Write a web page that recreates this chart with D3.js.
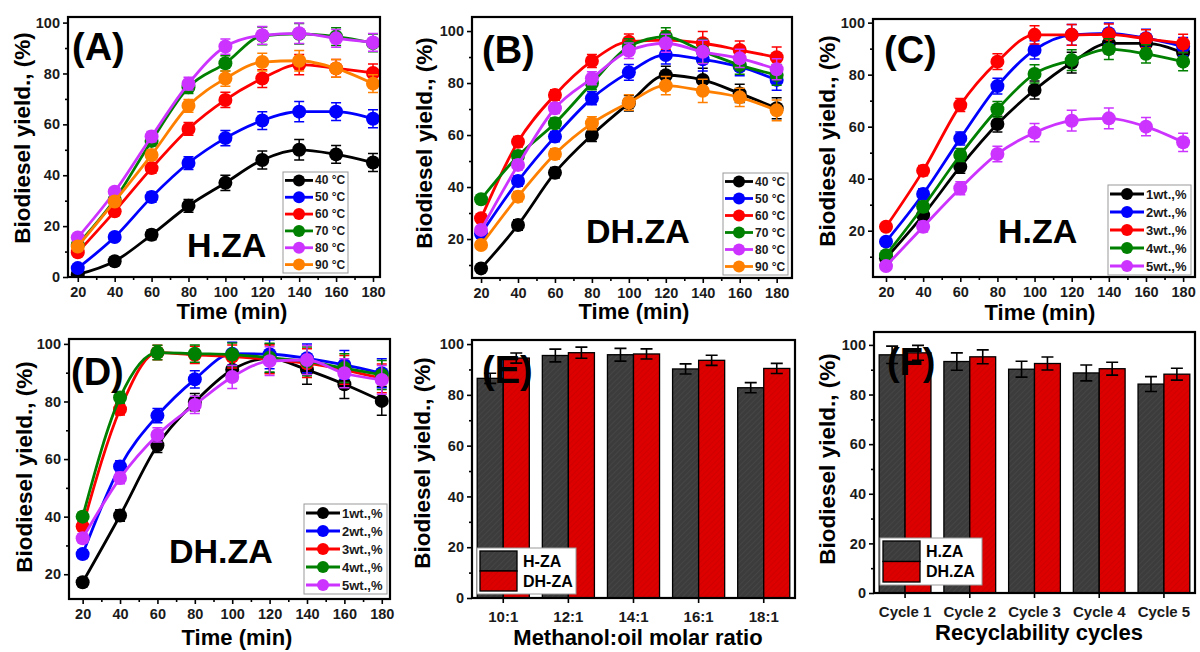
<!DOCTYPE html>
<html>
<head>
<meta charset="utf-8">
<script src="https://cdn.jsdelivr.net/npm/d3@7"></script>
<style>
  body { margin: 0; background: #fff; }
  svg text { font-family: "Liberation Sans", Arial, sans-serif; font-weight: bold; }
</style>
</head>
<body>
<div id="chart"></div>
<script>
// ---- data ----
const timeMin = [20, 40, 60, 80, 100, 120, 140, 160, 180];
const tempLabels = ["40 °C", "50 °C", "60 °C", "70 °C", "80 °C", "90 °C"];
const loadLabels = ["1wt.,%", "2wt.,%", "3wt.,%", "4wt.,%", "5wt.,%"];

// (A) H.ZA, temperature
const yieldA = [
  [1, 6.2, 16.6, 28, 37, 46, 50, 48.2, 45],
  [3.5, 15.7, 31.4, 44.8, 54.6, 61.5, 65, 65, 62.2],
  [9.7, 25.8, 42.8, 58.2, 69.6, 78, 83.5, 82, 80.2],
  [12.7, 30.4, 53.5, 74.6, 84, 94.8, 95.6, 94.5, 92],
  [15.5, 33.5, 55.2, 76, 90.6, 95, 95.8, 93.8, 92.2],
  [12, 29.7, 48, 67.3, 78, 84.5, 85, 82, 76]
];
const errA = [1, 1.5, 2, 2.5, 3, 3.5, 4, 3.5, 3.5];

// (B) DH.ZA, temperature
const yieldB = [
  [8.7, 25.4, 45.5, 60, 72.2, 83, 81.2, 76, 70.3],
  [22, 42.3, 59.4, 74.1, 84.1, 90.8, 89.1, 86.3, 81.2],
  [28, 57.4, 75.4, 88.5, 95.9, 96.5, 95.3, 92.7, 89.9],
  [35.3, 51.9, 64.5, 79.9, 94, 97.8, 92.2, 86.9, 83.1],
  [23.5, 48.5, 70.3, 81.8, 92.4, 95.3, 92, 89.5, 85.3],
  [17.7, 36.3, 52.7, 64.5, 72.5, 79, 77, 74.5, 69.5]
];
const errB = [1.5, 2, 2, 2.5, 3, 3.5, 4.5, 3.5, 4];

// (C) H.ZA, catalyst loading
const yieldC = [
  [9.4, 26, 44.6, 61, 74.1, 84.6, 92, 92, 88.5],
  [15.8, 34.1, 55.5, 75.6, 89.5, 95.3, 95.9, 94, 90.8],
  [21.5, 43.1, 68.3, 85, 95.3, 95.3, 95.5, 93.8, 92],
  [10.6, 29.2, 49.1, 66.7, 80.3, 85.6, 89.8, 88, 85],
  [6.4, 21.5, 36.3, 49.5, 57.7, 62.3, 63.2, 60, 54]
];
const errC = [1.5, 2, 2.5, 3, 3.5, 4, 4, 3.5, 3.5];

// (D) DH.ZA, catalyst loading
const yieldD = [
  [17.2, 40.4, 64.8, 79.8, 91, 95, 91, 86, 80.2],
  [27, 57.4, 75.1, 87.7, 96.6, 96.4, 95, 92.7, 89.8],
  [36.6, 77.3, 97, 96.2, 95.6, 94.6, 93.3, 91, 88],
  [40, 81.4, 97, 96.6, 96.3, 95.2, 93.9, 91.6, 89.2],
  [32.5, 53.4, 68.4, 78.8, 88.5, 94, 94.4, 89.8, 87.5]
];
const errD = [1.5, 2, 2.5, 3, 4, 5, 5, 5, 5];

// (E) methanol:oil molar ratio
const ratioCats = ["10:1", "12:1", "14:1", "16:1", "18:1"];
const ratioH = [86.5, 95.5, 95.8, 90.2, 82.8];
const ratioHErr = [2, 2.5, 2.5, 2, 2];
const ratioDH = [94.5, 96.6, 96.1, 93.6, 90.4];
const ratioDHErr = [2, 2.2, 2, 2, 2];

// (F) recyclability
const cycleCats = ["Cycle 1", "Cycle 2", "Cycle 3", "Cycle 4", "Cycle 5"];
const cycleH = [96, 93.3, 90.2, 88.7, 84.2];
const cycleHErr = [3.5, 3.5, 3.2, 3.2, 3];
const cycleDH = [96.8, 95.2, 92.5, 90.4, 88.2];
const cycleDHErr = [3, 2.8, 2.6, 2.6, 2.4];

const tempColors = ["#000000", "#0000ff", "#ff0000", "#008000", "#cc33ff", "#ff8000"];
const loadColors = ["#000000", "#0000ff", "#ff0000", "#008000", "#cc33ff"];

const W = 1200, H = 652;
const svg = d3.select("#chart").append("svg")
  .attr("width", W).attr("height", H)
  .style("background", "#fff");

// hatched bar fills
const defs = svg.append("defs");
function hatch(id, base, line) {
  const p = defs.append("pattern")
    .attr("id", id)
    .attr("patternUnits", "userSpaceOnUse")
    .attr("width", 4).attr("height", 4)
    .attr("patternTransform", "rotate(45)");
  p.append("rect").attr("width", 4).attr("height", 4).attr("fill", base);
  p.append("line").attr("x1", 0).attr("y1", 0).attr("x2", 0).attr("y2", 4)
    .attr("stroke", line).attr("stroke-width", 1);
}
hatch("hatchGray", "#3c3c3c", "#4e4e4e");
hatch("hatchRed", "#dd0000", "#c40000");

function styleAxis(g) {
  g.select(".domain").remove();
  g.selectAll(".tick line").attr("stroke", "#000").attr("stroke-width", 1.6);
  g.selectAll(".tick text").attr("font-size", 14.5).attr("fill", "#1a1a1a");
}

function xAxes(box, x, xMajor, xMinor) {
  const bottom = svg.append("g").attr("transform", `translate(0,${box.y1})`)
    .call(d3.axisBottom(x).tickValues(xMajor).tickSize(5).tickPadding(5).tickSizeOuter(0));
  styleAxis(bottom);
  if (xMinor) {
    const bm = svg.append("g").attr("transform", `translate(0,${box.y1})`)
      .call(d3.axisBottom(x).tickValues(xMinor).tickSize(3).tickFormat("").tickSizeOuter(0));
    styleAxis(bm);
  }
  return bottom;
}

function yAxes(box, y, yMajor, yMinor) {
  const left = svg.append("g").attr("transform", `translate(${box.x0},0)`)
    .call(d3.axisLeft(y).tickValues(yMajor).tickSize(5).tickPadding(3).tickSizeOuter(0));
  styleAxis(left);
  const lm = svg.append("g").attr("transform", `translate(${box.x0},0)`)
    .call(d3.axisLeft(y).tickValues(yMinor).tickSize(3).tickFormat("").tickSizeOuter(0));
  styleAxis(lm);
}

function drawFrame(box) {
  svg.append("rect")
    .attr("x", box.x0).attr("y", box.y0)
    .attr("width", box.x1 - box.x0).attr("height", box.y1 - box.y0)
    .attr("fill", "none").attr("stroke", "#000").attr("stroke-width", 2.2);
}

function titles(xTitle, xt, yt) {
  svg.append("text").attr("x", xt[0]).attr("y", xt[1])
    .attr("text-anchor", "middle").attr("font-size", 22).text(xTitle);
  svg.append("text")
    .attr("transform", `translate(${yt[0]},${yt[1]}) rotate(-90)`)
    .attr("text-anchor", "middle").attr("dominant-baseline", "central")
    .attr("font-size", 22.5).text("Biodiesel yield., (%)");
}

function linePanel(cfg) {
  const box = cfg.box;
  const x = d3.scaleLinear().domain(cfg.xDom).range([box.x0, box.x1]);
  const y = d3.scaleLinear().domain(cfg.yDom).range([box.y1, box.y0]);
  const clipId = "clip" + cfg.tag;
  defs.append("clipPath").attr("id", clipId).append("rect")
    .attr("x", box.x0 - 10).attr("y", box.y0 - 10)
    .attr("width", box.x1 - box.x0 + 20).attr("height", box.y1 - box.y0 + 10);

  xAxes(box, x, timeMin, d3.range(30, 180, 20));
  yAxes(box, y, cfg.yMajor, cfg.yMinor);

  const line = d3.line().x((d, i) => x(timeMin[i])).y(d => y(d)).curve(d3.curveMonotoneX);
  const plot = svg.append("g").attr("clip-path", `url(#${clipId})`);
  cfg.series.forEach((s, k) => {
    const c = cfg.colors[k];
    const g = plot.append("g");
    g.append("path").attr("d", line(s)).attr("fill", "none")
      .attr("stroke", c).attr("stroke-width", 2.8);
    g.selectAll("circle").data(s).join("circle")
      .attr("cx", (d, i) => x(timeMin[i])).attr("cy", d => y(d))
      .attr("r", 7).attr("fill", c);
    s.forEach((d, i) => {
      const e = cfg.err[i], cx = x(timeMin[i]);
      g.append("path")
        .attr("d", `M${cx},${y(d - e)}V${y(d + e)}M${cx - 5},${y(d - e)}H${cx + 5}M${cx - 5},${y(d + e)}H${cx + 5}`)
        .attr("stroke", c).attr("stroke-width", 1.5).attr("fill", "none");
    });
  });
  drawFrame(box);

  // legend
  const L = cfg.legend;
  const lg = svg.append("g");
  lg.append("rect").attr("x", L.x).attr("y", L.y).attr("width", L.w).attr("height", L.h)
    .attr("fill", "#fff").attr("stroke", "#999").attr("stroke-width", 1);
  const rowH = L.h / cfg.labels.length;
  cfg.labels.forEach((lab, k) => {
    const cy = L.y + rowH * (k + 0.5);
    lg.append("line").attr("x1", L.x + 2).attr("x2", L.x + L.line).attr("y1", cy).attr("y2", cy)
      .attr("stroke", cfg.colors[k]).attr("stroke-width", 2.8);
    lg.append("circle").attr("cx", L.x + 2 + (L.line - 2) / 2).attr("cy", cy).attr("r", 6)
      .attr("fill", cfg.colors[k]);
    lg.append("text").attr("x", L.x + L.line + 2).attr("y", cy)
      .attr("dominant-baseline", "central").attr("font-size", L.fs).attr("fill", "#1a1a1a").text(lab);
  });

  svg.append("text").attr("x", cfg.plab[0]).attr("y", cfg.plab[1])
    .attr("font-size", 38).text(cfg.panel);
  svg.append("text").attr("x", cfg.slab[0]).attr("y", cfg.slab[1])
    .attr("font-size", 34).text(cfg.sample);
  titles("Time (min)", cfg.xt, cfg.yt);
}

function barPanel(cfg) {
  const box = cfg.box;
  const x = d3.scaleBand().domain(cfg.cats).range([box.x0, box.x1])
    .paddingInner(0.2).paddingOuter(0.08);
  const y = d3.scaleLinear().domain(cfg.yDom).range([box.y1, box.y0]);
  const bw = x.bandwidth() / 2;

  yAxes(box, y, [0, 20, 40, 60, 80, 100], d3.range(10, 100, 20));
  const xa = xAxes(box, x, cfg.cats, null);
  xa.selectAll(".tick text").attr("font-size", 15).attr("dy", "0.9em");

  const groups = [
    { vals: cfg.h, err: cfg.hErr, fill: "url(#hatchGray)", off: 0 },
    { vals: cfg.dh, err: cfg.dhErr, fill: "url(#hatchRed)", off: bw }
  ];
  groups.forEach(gr => {
    svg.append("g").selectAll("rect").data(gr.vals).join("rect")
      .attr("x", (d, i) => x(cfg.cats[i]) + gr.off).attr("width", bw)
      .attr("y", d => y(d)).attr("height", d => box.y1 - y(d))
      .attr("fill", gr.fill).attr("stroke", "#000").attr("stroke-width", 1.3);
  });
  groups.forEach(gr => {
    gr.vals.forEach((d, i) => {
      const cx = x(cfg.cats[i]) + gr.off + bw / 2, e = gr.err[i];
      svg.append("path")
        .attr("d", `M${cx},${y(d - e)}V${y(d + e)}M${cx - 6},${y(d - e)}H${cx + 6}M${cx - 6},${y(d + e)}H${cx + 6}`)
        .attr("stroke", "#000").attr("stroke-width", 1.6).attr("fill", "none");
    });
  });
  drawFrame(box);

  svg.append("text").attr("x", cfg.plab[0]).attr("y", cfg.plab[1])
    .attr("font-size", 38).text(cfg.panel);

  const L = cfg.legend;
  const lg = svg.append("g");
  lg.append("rect").attr("x", L.x).attr("y", L.y).attr("width", L.w).attr("height", L.h)
    .attr("fill", "#fff").attr("stroke", "#999");
  cfg.names.forEach((n, k) => {
    const rh = (L.h - 6) / 2;
    const ry = L.y + 3 + k * rh;
    lg.append("rect").attr("x", L.x + 3).attr("y", ry).attr("width", 37).attr("height", rh)
      .attr("fill", k === 0 ? "url(#hatchGray)" : "url(#hatchRed)").attr("stroke", "#000").attr("stroke-width", 1.3);
    lg.append("text").attr("x", L.x + 46).attr("y", ry + rh / 2)
      .attr("dominant-baseline", "central").attr("font-size", 16).text(n);
  });
  titles(cfg.xTitle, cfg.xt, cfg.yt);
}

linePanel({
  tag: "A", box: { x0: 68, x1: 380, y0: 17, y1: 277 },
  xDom: [14.7, 183.8], yDom: [0, 102.2],
  yMajor: [0, 20, 40, 60, 80, 100], yMinor: d3.range(10, 100, 20),
  series: yieldA, err: errA, colors: tempColors, labels: tempLabels,
  legend: { x: 283, y: 172, w: 65, h: 101, line: 30, fs: 12 },
  panel: "(A)", plab: [72, 60], sample: "H.ZA", slab: [187, 257],
  xt: [232, 319], yt: [22, 138]
});

linePanel({
  tag: "B", box: { x0: 472, x1: 792, y0: 17, y1: 278 },
  xDom: [15.1, 188.3], yDom: [5, 105.4],
  yMajor: [20, 40, 60, 80, 100], yMinor: d3.range(10, 100, 20),
  series: yieldB, err: errB, colors: tempColors, labels: tempLabels,
  legend: { x: 723, y: 173, w: 65, h: 102, line: 30, fs: 12 },
  panel: "(B)", plab: [482, 63], sample: "DH.ZA", slab: [586, 243],
  xt: [634, 319], yt: [424, 143]
});

linePanel({
  tag: "C", box: { x0: 873, x1: 1195, y0: 19, y1: 277 },
  xDom: [13, 186.4], yDom: [2.2, 101.4],
  yMajor: [20, 40, 60, 80, 100], yMinor: d3.range(10, 100, 20),
  series: yieldC, err: errC, colors: loadColors, labels: loadLabels,
  legend: { x: 1108, y: 185, w: 83, h: 90, line: 36, fs: 13 },
  panel: "(C)", plab: [884, 63], sample: "H.ZA", slab: [998, 243],
  xt: [1040, 320], yt: [827, 141]
});

linePanel({
  tag: "D", box: { x0: 69, x1: 390, y0: 339, y1: 599 },
  xDom: [12.7, 184.4], yDom: [11.4, 101.7],
  yMajor: [20, 40, 60, 80, 100], yMinor: d3.range(30, 100, 20),
  series: yieldD, err: errD, colors: loadColors, labels: loadLabels,
  legend: { x: 304, y: 504, w: 83, h: 90, line: 36, fs: 13 },
  panel: "(D)", plab: [71, 385], sample: "DH.ZA", slab: [169, 563],
  xt: [237, 645], yt: [24, 467]
});

barPanel({
  box: { x0: 472, x1: 795, y0: 340, y1: 598 }, yDom: [0, 101.6],
  cats: ratioCats, h: ratioH, hErr: ratioHErr, dh: ratioDH, dhErr: ratioDHErr,
  names: ["H-ZA", "DH-ZA"], legend: { x: 477, y: 548, w: 99, h: 46 },
  panel: "(E)", plab: [482, 383],
  xTitle: "Methanol:oil molar ratio", xt: [638, 645], yt: [422, 463]
});

barPanel({
  box: { x0: 874, x1: 1195, y0: 332, y1: 593 }, yDom: [0, 105.2],
  cats: cycleCats, h: cycleH, hErr: cycleHErr, dh: cycleDH, dhErr: cycleDHErr,
  names: ["H.ZA", "DH.ZA"], legend: { x: 880, y: 538, w: 102, h: 47 },
  panel: "(F)", plab: [887, 375],
  xTitle: "Recyclability cycles", xt: [1039, 640], yt: [827, 459]
});
</script>
</body>
</html>
